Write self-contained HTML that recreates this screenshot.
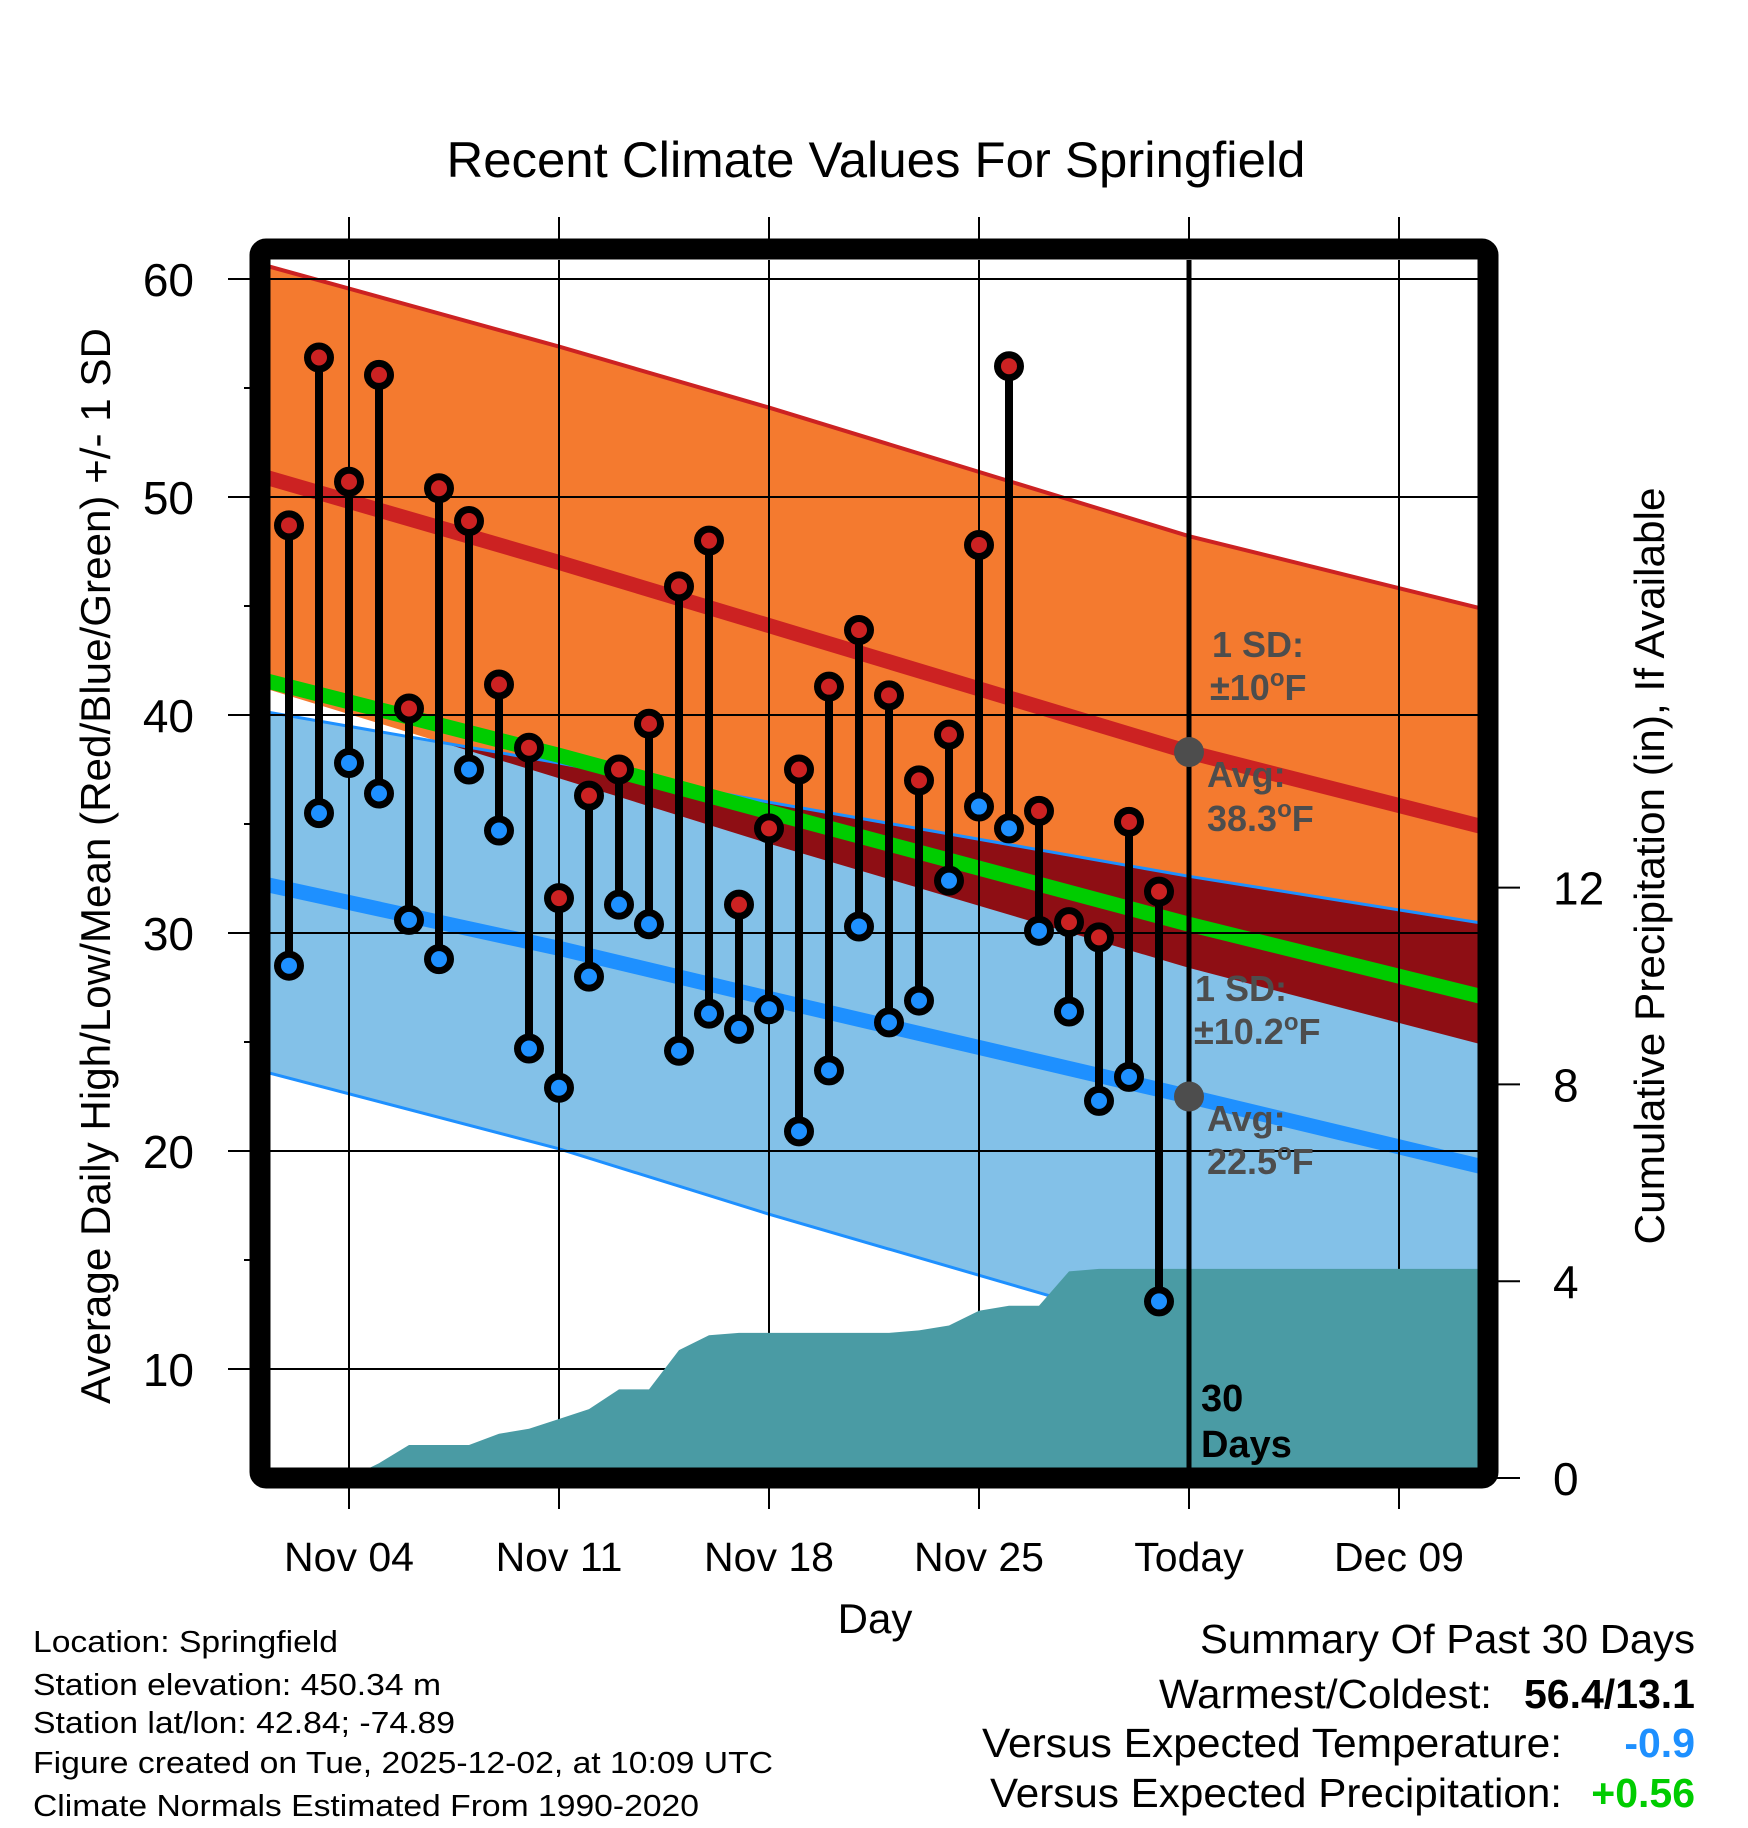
<!DOCTYPE html>
<html><head><meta charset="utf-8"><style>
html,body{margin:0;padding:0;background:#fff;}
svg{display:block;font-family:"Liberation Sans",sans-serif;}
</style></head><body>
<svg id="chart" width="1748" height="1828" viewBox="0 0 1748 1828" xmlns="http://www.w3.org/2000/svg">
<defs>
<clipPath id="plotClip"><rect x="270" y="260" width="1208" height="1208"/></clipPath>
<clipPath id="lowClip"><path id="lowClipPath" d=""/></clipPath>
</defs>
<g id="plot" clip-path="url(#plotClip)"></g>
<g id="over"></g>
<text x="876" y="177" font-size="50" text-anchor="middle" textLength="859" lengthAdjust="spacingAndGlyphs">Recent Climate Values For Springfield</text>
<text transform="translate(110,866) rotate(-90)" font-size="42" text-anchor="middle" textLength="1076" lengthAdjust="spacingAndGlyphs">Average Daily High/Low/Mean (Red/Blue/Green) +/- 1 SD</text>
<text transform="translate(1664,866) rotate(-90)" font-size="42" text-anchor="middle" textLength="757" lengthAdjust="spacingAndGlyphs">Cumulative Precipitation (in), If Available</text>
<text x="875" y="1633" font-size="42" text-anchor="middle">Day</text>
<g font-size="31">
<text x="33" y="1652" textLength="305" lengthAdjust="spacingAndGlyphs">Location: Springfield</text>
<text x="33" y="1695" textLength="408" lengthAdjust="spacingAndGlyphs">Station elevation: 450.34 m</text>
<text x="33" y="1733" textLength="422" lengthAdjust="spacingAndGlyphs">Station lat/lon: 42.84; -74.89</text>
<text x="33" y="1773" textLength="740" lengthAdjust="spacingAndGlyphs">Figure created on Tue, 2025-12-02, at 10:09 UTC</text>
<text x="33" y="1816" textLength="666" lengthAdjust="spacingAndGlyphs">Climate Normals Estimated From 1990-2020</text>
</g>
<g font-size="41">
<text x="1695" y="1653" text-anchor="end" textLength="495" lengthAdjust="spacingAndGlyphs">Summary Of Past 30 Days</text>
<text x="1492" y="1708" text-anchor="end" textLength="333" lengthAdjust="spacingAndGlyphs">Warmest/Coldest:</text>
<text x="1695" y="1708" text-anchor="end" font-weight="bold">56.4/13.1</text>
<text x="1562" y="1757" text-anchor="end" textLength="580" lengthAdjust="spacingAndGlyphs">Versus Expected Temperature:</text>
<text x="1695" y="1757" text-anchor="end" font-weight="bold" fill="#1E90FF">-0.9</text>
<text x="1562" y="1807" text-anchor="end" textLength="572" lengthAdjust="spacingAndGlyphs">Versus Expected Precipitation:</text>
<text x="1695" y="1807" text-anchor="end" font-weight="bold" fill="#00CC00">+0.56</text>
</g>
</svg>
<script>
// ---- data ----
const dataDays = [-2,-1,0,1,2,3,4,5,6,7,8,9,10,11,12,13,14,15,16,17,18,19,20,21,22,23,24,25,26,27];
const highs = [48.7,56.4,50.7,55.6,40.3,50.4,48.9,41.4,38.5,31.6,36.3,37.5,39.6,45.9,48.0,31.3,34.8,37.5,41.3,43.9,40.9,37.0,39.1,47.8,56.0,35.6,30.5,29.8,35.1,31.9];
const lows = [28.5,35.5,37.8,36.4,30.6,28.8,37.5,34.7,24.7,22.9,28.0,31.3,30.4,24.6,26.3,25.6,26.5,20.9,23.7,30.3,25.9,26.9,32.4,35.8,34.8,30.1,26.4,22.3,23.4,13.1];
const precip = [0,0,0,0.3,0.67,0.67,0.67,0.9,1.0,1.2,1.4,1.8,1.8,2.6,2.9,2.95,2.95,2.95,2.95,2.95,2.95,3.0,3.1,3.4,3.5,3.5,4.2,4.25,4.25,4.25];
const normDays = [-3,7,14,28,38];
const normHigh = [51.0,47.0,44.1,38.3,34.8];
const highUpper = [60.7,56.9,54.1,48.2,44.8];
const highLower = [41.3,37.1,34.1,28.4,24.8];
const normLow = [32.3,29.3,27.0,22.5,19.2];
const lowUpper = [40.2,37.8,36.0,32.6,30.4];
const lowLower = [23.7,20.1,17.1,11.5,8.6];
const xTickDays = [0,7,14,21,28,35];
const xTickLabels = ["Nov 04","Nov 11","Nov 18","Nov 25","Today","Dec 09"];
const yTicks = [10,20,30,40,50,60];
const yMinor = [15,25,35,45,55];
const pTicks = [0,4,8,12];
const todayDay = 28;
const todayHigh = 38.3, todayLow = 22.5;

// ---- axes ----
const X = d => 349 + 30*d;
const Y = t => 279 + (60 - t)*21.8;
const P = p => 1478 - p*49.2;
const NS = "http://www.w3.org/2000/svg";
const plot = document.getElementById('plot');
const over = document.getElementById('over');
function mk(tag, attrs, parent){const e=document.createElementNS(NS,tag);for(const k in attrs)e.setAttribute(k,attrs[k]);parent.appendChild(e);return e;}
const ptsOf = (days, vals) => days.map((d,i)=>X(d).toFixed(1)+','+Y(vals[i]).toFixed(1));
const meanVals = normHigh.map((h,i)=>(h+normLow[i])/2);

// bands
const highPoly = ptsOf(normDays, highUpper).concat(ptsOf(normDays, highLower).reverse()).join(' ');
const lowPoly = ptsOf(normDays, lowUpper).concat(ptsOf(normDays, lowLower).reverse()).join(' ');
document.getElementById('lowClipPath').setAttribute('d','M'+lowPoly.split(' ').join(' L')+' Z');
let e;
e = mk('polygon',{points:highPoly,fill:'#F47A2F'},plot);


e = mk('polygon',{points:lowPoly,fill:'#83C1E8'},plot);


e = mk('polygon',{points:highPoly,fill:'#8E0E14','clip-path':'url(#lowClip)'},plot);


function line(vals, color, w, name){
  const l = mk('polyline',{points:ptsOf(normDays, vals).join(' '),fill:'none',stroke:color,'stroke-width':w},plot);
  
  
}
line(highUpper,'#CC2222',4,'high-upper-sd-line');
line(lowUpper,'#1E90FF',3,'low-upper-sd-line');
line(lowLower,'#1E90FF',3,'low-lower-sd-line');
line(normHigh,'#CC2222',15,'normal-high-line');
line(meanVals,'#00CC00',15,'normal-mean-line');
line(normLow,'#1E90FF',15,'normal-low-line');

// gridlines
xTickDays.forEach(d=>{
  const g = mk('line',{x1:X(d),x2:X(d),y1:200,y2:1520,stroke:'#000','stroke-width':2},plot);
  
  
});
yTicks.forEach(t=>{
  const g = mk('line',{x1:200,x2:1500,y1:Y(t),y2:Y(t),stroke:'#000','stroke-width':2},plot);
  
  
});

// precipitation area
let pp = [X(-3)+','+P(0)];
dataDays.forEach((d,i)=>pp.push(X(d)+','+P(precip[i]).toFixed(1)));
pp.push(X(39)+','+P(precip[precip.length-1]).toFixed(1));
pp.push(X(39)+','+P(0));
e = mk('polygon',{points:pp.join(' '),fill:'#4A9BA4'},plot);



// stems and markers
dataDays.forEach((d,i)=>{
  const s = mk('line',{x1:X(d),x2:X(d),y1:Y(highs[i]),y2:Y(lows[i]),stroke:'#000','stroke-width':8},plot);
  
  
});
dataDays.forEach((d,i)=>{
  const h = mk('circle',{cx:X(d),cy:Y(highs[i]),r:11.5,fill:'#CC2222',stroke:'#000','stroke-width':7},plot);
  
  
  const l = mk('circle',{cx:X(d),cy:Y(lows[i]),r:11.5,fill:'#1E90FF',stroke:'#000','stroke-width':7},plot);
  
  
});

// today line and labels
e = mk('line',{x1:X(todayDay),x2:X(todayDay),y1:250,y2:1480,stroke:'#000','stroke-width':5},plot);


e = mk('circle',{cx:X(todayDay),cy:Y(todayHigh),r:15,fill:'#4D4D4D'},plot);


e = mk('circle',{cx:X(todayDay),cy:Y(todayLow),r:15,fill:'#4D4D4D'},plot);


function lbl(x,y,txt,name,opts){
  const t = mk('text',Object.assign({x:x,y:y,'font-size':36,'font-weight':'bold',fill:'#4D4D4D'},opts||{}),plot);
  t.innerHTML = txt;
  
  
}
lbl(1212,657,'1 SD:','high-sd-label');
lbl(1210,700,'±10<tspan dy="-14" font-size="24">o</tspan><tspan dy="14">F</tspan>','high-sd-value');
lbl(1207,787,'Avg:','high-avg-label');
lbl(1207,831,'38.3<tspan dy="-14" font-size="24">o</tspan><tspan dy="14">F</tspan>','high-avg-value');
lbl(1195,1001,'1 SD:','low-sd-label');
lbl(1194,1044,'±10.2<tspan dy="-14" font-size="24">o</tspan><tspan dy="14">F</tspan>','low-sd-value');
lbl(1207,1131,'Avg:','low-avg-label');
lbl(1207,1174,'22.5<tspan dy="-14" font-size="24">o</tspan><tspan dy="14">F</tspan>','low-avg-value');
lbl(1201,1411,'30','days-label-num',{fill:'#000','font-size':38});
lbl(1201,1457,'Days','days-label-text',{fill:'#000','font-size':38});

// frame
e = mk('rect',{x:260,y:249,width:1228,height:1229,rx:6,fill:'none',stroke:'#000','stroke-width':21},over);



// ticks & labels
xTickDays.forEach((d,i)=>{
  const a = mk('line',{x1:X(d),x2:X(d),y1:217,y2:240,stroke:'#000','stroke-width':2},over);
  
  
  const b = mk('line',{x1:X(d),x2:X(d),y1:1488,y2:1509,stroke:'#000','stroke-width':2},over);
  
  
  const t = mk('text',{x:X(d),y:1571,'font-size':41,'text-anchor':'middle'},over);
  t.textContent = xTickLabels[i];
  
  
});
yTicks.forEach(v=>{
  const a = mk('line',{x1:228,x2:252,y1:Y(v),y2:Y(v),stroke:'#000','stroke-width':2},over);
  
  
  const t = mk('text',{x:194,y:Y(v)+17,'font-size':46,'text-anchor':'end'},over);
  t.textContent = v;
  
  
});
yMinor.forEach(v=>{
  const a = mk('line',{x1:244,x2:252,y1:Y(v),y2:Y(v),stroke:'#000','stroke-width':2},over);
  
  
});
pTicks.forEach(v=>{
  const a = mk('line',{x1:1497,x2:1520,y1:P(v),y2:P(v),stroke:'#000','stroke-width':2},over);
  
  
  const t = mk('text',{x:1553,y:P(v)+17,'font-size':46},over);
  t.textContent = v;
  
  
});
</script>
</body></html>
